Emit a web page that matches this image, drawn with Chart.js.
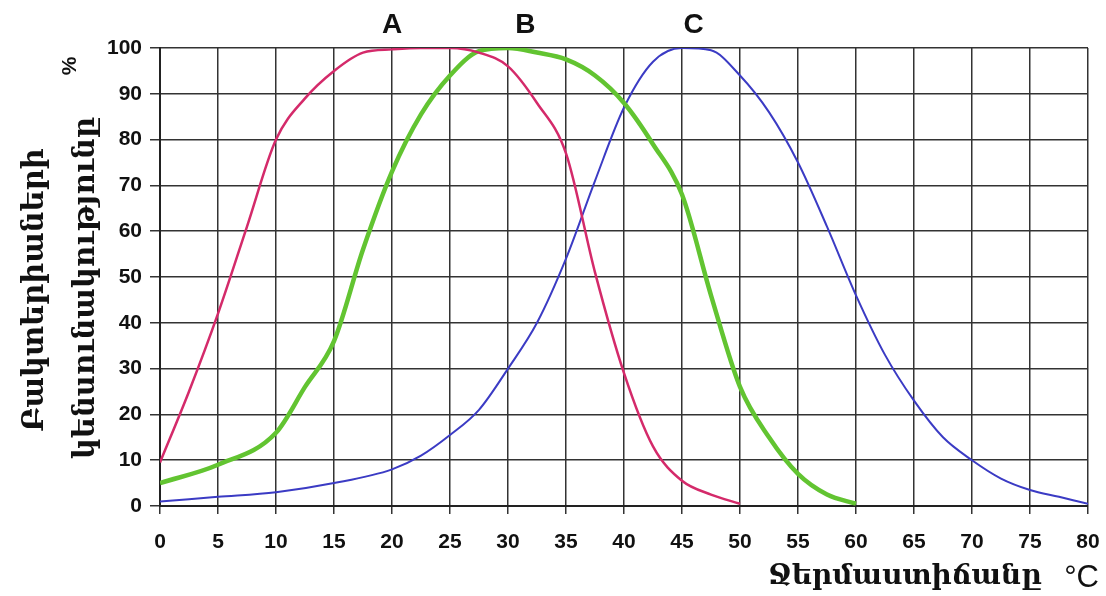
<!DOCTYPE html>
<html>
<head>
<meta charset="utf-8">
<script src="https://cdn.jsdelivr.net/npm/chart.js@4/dist/chart.umd.min.js"></script>
<style>
  html, body { margin: 0; padding: 0; background: #fff; }
  #wrap { width: 1106px; height: 596px; }
</style>
</head>
<body>
<div id="wrap"><canvas id="chart" width="1106" height="596"></canvas></div>
<script>
// ---- data ----
const tempA = [0, 2.5, 5, 7.5, 10, 12.5, 15, 17.5, 20, 22.5, 25, 27.5, 30, 32.5, 35, 37.5, 40, 42.5, 45, 47.5, 50];
const valA  = [9.5, 25, 42, 61, 80, 89, 95, 99, 99.7, 100, 100, 99, 96, 88, 77, 51, 29, 13, 5.5, 2.5, 0.5];

const tempB = [0, 5, 10, 12.5, 15, 17.5, 20, 22.5, 25, 27.5, 30, 32.5, 35, 37.5, 40, 42.5, 45, 47.5, 50, 52.5, 55, 57.5, 60];
const valB  = [5, 9, 16, 26, 36, 56, 73, 85.5, 94, 99.3, 100, 99, 97.5, 94, 88, 79, 68, 46, 26, 15, 7, 2.5, 0.5];

const tempC = [0, 5, 10, 15, 20, 22.5, 25, 27.5, 30, 32.5, 35, 37.5, 40, 42.5, 45, 47.5, 50, 52.5, 55, 57.5, 60, 62.5, 65, 67.5, 70, 72.5, 75, 77.5, 80];
const valC  = [1, 2, 3, 5, 8, 11, 15.5, 21, 30, 40, 54, 71, 87, 97, 100, 99.5, 94, 86, 75, 61, 46, 33, 23, 15, 10, 6, 3.5, 2, 0.5];

const curveNames = ["A", "B", "C"];
const curveLabelX = [20, 31.5, 46];   // where the letters sit above the curves

const yTitle1 = "Բակտերիաների";
const yTitle2 = "կենսունակությունը";
const xTitle = "Ջերմաստիճանը";
const unitX = "°C";
const unitY = "%";

function pts(xs, ys) {
  return xs.map((x, i) => ({ x: x, y: ys[i] }));
}

// ---- texts around the plot ----
const textPlugin = {
  id: "texts",
  afterDraw(chart) {
    const c = chart.ctx;
    const xs = chart.scales.x;
    c.save();
    c.fillStyle = "#111";

    // A B C
    c.font = "bold 28px 'Liberation Sans', Arial, sans-serif";
    c.textAlign = "center";
    c.textBaseline = "middle";
    curveNames.forEach((n, i) => {
      c.fillText(n, xs.getPixelForValue(curveLabelX[i]), 25);
    });

    // y title, rotated
    c.save();
    c.translate(35, 290);
    c.rotate(-Math.PI / 2);
    c.font = "bold 29px 'DejaVu Serif', serif";
    c.fillText(yTitle1, 0, 0);
    c.restore();

    c.save();
    c.translate(86, 288);
    c.rotate(-Math.PI / 2);
    c.font = "bold 29px 'DejaVu Serif', serif";
    c.fillText(yTitle2, 0, 0);
    c.restore();

    c.save();
    c.translate(70, 66);
    c.rotate(-Math.PI / 2);
    c.font = "bold 21px 'Liberation Sans', Arial, sans-serif";
    c.fillText(unitY, 0, 0);
    c.restore();

    // x title with the unit
    c.textAlign = "left";
    c.textBaseline = "alphabetic";
    c.font = "bold 28px 'DejaVu Serif', serif";
    c.fillText(xTitle, 768, 584);
    c.font = "31px 'Liberation Sans', Arial, sans-serif";
    c.textAlign = "right";
    c.fillText(unitX, 1099, 587);
    c.restore();
  }
};

const chart = new Chart(document.getElementById("chart"), {
  type: "line",
  data: {
    datasets: [
      { label: "A", data: pts(tempA, valA), borderColor: "#d42a6a", borderWidth: 2.5 },
      { label: "B", data: pts(tempB, valB), borderColor: "#62c431", borderWidth: 4.5 },
      { label: "C", data: pts(tempC, valC), borderColor: "#3b3bc4", borderWidth: 2 }
    ]
  },
  options: {
    responsive: false,
    animation: false,
    devicePixelRatio: 1,
    layout: { padding: { top: 48, right: 18, bottom: 0, left: 0 } },
    elements: {
      point: { radius: 0 },
      line: { cubicInterpolationMode: "monotone", fill: false }
    },
    plugins: { legend: { display: false }, tooltip: { enabled: false } },
    scales: {
      x: {
        type: "linear",
        min: 0, max: 80,
        afterFit: s => { s.height = 90; s.paddingLeft = 0; s.paddingRight = 0; },
        border: { color: "#222", width: 2 },
        grid: { color: "#333", lineWidth: 1.5, tickLength: 8, drawTicks: true },
        ticks: {
          stepSize: 5,
          padding: 16,
          color: "#111",
          font: { family: "'Liberation Sans', Arial, sans-serif", size: 21, weight: "bold" }
        }
      },
      y: {
        min: 0, max: 100,
        afterFit: s => { s.width = 160; s.paddingTop = 0; s.paddingBottom = 0; },
        border: { color: "#222", width: 2 },
        grid: { color: "#333", lineWidth: 1.5, tickLength: 10 },
        ticks: {
          stepSize: 10,
          padding: 8,
          color: "#111",
          font: { family: "'Liberation Sans', Arial, sans-serif", size: 21, weight: "bold" }
        }
      }
    }
  },
  plugins: [textPlugin]
});
</script>
</body>
</html>
